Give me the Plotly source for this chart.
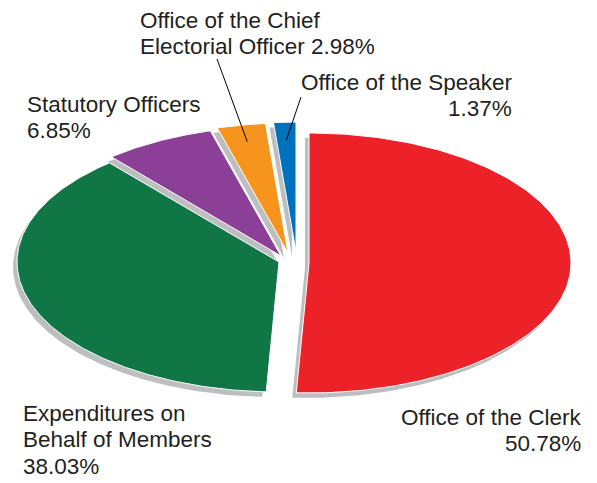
import numpy as np
import plotly.graph_objects as go

# Budget shares by office (percent)
categories = [
    "Office of the Clerk",
    "Expenditures on Behalf of Members",
    "Statutory Officers",
    "Office of the Chief Electorial Officer",
    "Office of the Speaker",
]
shares = [50.78, 38.03, 6.85, 2.98, 1.37]
colors = ["#ed2228", "#117645", "#8c3f97", "#f7941e", "#0071bc"]
shadow_color = "#bcbec0"
text_color = "#231f20"

# Label lines for each slice; "{p}" is replaced by the formatted share
label_lines = [
    ["Office of the Clerk", "{p}"],
    ["Expenditures on", "Behalf of Members", "{p}"],
    ["Statutory Officers", "{p}"],
    ["Office of the Chief", "Electorial Officer {p}"],
    ["Office of the Speaker", "{p}"],
]

# ---- layout geometry (pixels) ----
W, H = 597, 483
CX, CY = 292, 261          # pie centre
A, B = 262, 130            # horizontal / vertical radius (tilted pie)
slice_shift = [(17, 2), (-13, 1), (-11, -5), (-4, -8), (4, -9)]  # exploded offsets
shadow_shift = (-4, 5)

# label anchors: (x, first-line centre y, anchor)
label_pos = [
    (583, 417, "right"),
    (21, 413, "left"),
    (25, 104, "left"),
    (138, 20, "left"),
    (514, 82, "right"),
]
LINE_H = 26.5
# leader lines: text-side end point (pixels) and radius on slice
leaders = {3: ((217, 59), 0.87), 4: ((301, 97), 0.86)}


def to_data(xp, yp):
    return (xp - CX) / A, (CY - yp) / B


def wedge(t0, t1, cx, cy, n=200):
    th = np.linspace(t0, t1, n)
    xs = np.concatenate([[cx], cx + np.sin(th), [cx]])
    ys = np.concatenate([[cy], cy + np.cos(th), [cy]])
    return xs, ys


total = sum(shares)
bounds = np.concatenate([[0], np.cumsum(shares) / total]) * 2 * np.pi

fig = go.Figure()

centres = []
for i in range(len(shares)):
    dx, dy = slice_shift[i]
    centres.append((dx / A, -dy / B))

# shadows first
for i in range(len(shares)):
    cx, cy = centres[i]
    sx, sy = shadow_shift[0] / A, -shadow_shift[1] / B
    xs, ys = wedge(bounds[i], bounds[i + 1], cx + sx, cy + sy)
    fig.add_trace(go.Scatter(x=xs, y=ys, mode="lines", fill="toself",
                             fillcolor=shadow_color, line=dict(width=0),
                             hoverinfo="skip", showlegend=False))

# slices
for i in range(len(shares)):
    cx, cy = centres[i]
    xs, ys = wedge(bounds[i], bounds[i + 1], cx, cy)
    fig.add_trace(go.Scatter(x=xs, y=ys, mode="lines", fill="toself",
                             fillcolor=colors[i], line=dict(width=1, color="white"),
                             name=categories[i],
                             text=f"{categories[i]}: {shares[i]:.2f}%",
                             hoveron="fills", hoverinfo="text", showlegend=False))

# leader lines
for i, ((tx, ty), r) in leaders.items():
    cx, cy = centres[i]
    mid = (bounds[i] + bounds[i + 1]) / 2
    px_, py_ = cx + r * np.sin(mid), cy + r * np.cos(mid)
    x0, y0 = to_data(tx, ty)
    fig.add_trace(go.Scatter(x=[x0, px_], y=[y0, py_], mode="lines",
                             line=dict(color="black", width=1),
                             hoverinfo="skip", showlegend=False))

# labels
annotations = []
for i, lines in enumerate(label_lines):
    lx, ly, anchor = label_pos[i]
    for k, line in enumerate(lines):
        txt = line.replace("{p}", f"{shares[i]:.2f}%")
        x, y = to_data(lx, ly + k * LINE_H)
        annotations.append(dict(x=x, y=y, text=txt, showarrow=False,
                                xanchor=anchor, yanchor="middle",
                                font=dict(family="Liberation Sans, Arial, sans-serif",
                                          size=22.5, color=text_color)))

x_lo, y_hi = to_data(0, 0)
x_hi, y_lo = to_data(W, H)
fig.update_layout(
    width=W, height=H, autosize=False,
    margin=dict(l=0, r=0, t=0, b=0),
    paper_bgcolor="white", plot_bgcolor="white",
    xaxis=dict(range=[x_lo, x_hi], visible=False, fixedrange=True),
    yaxis=dict(range=[y_lo, y_hi], visible=False, fixedrange=True),
    annotations=annotations,
    showlegend=False,
)

fig.write_html("out.html")
